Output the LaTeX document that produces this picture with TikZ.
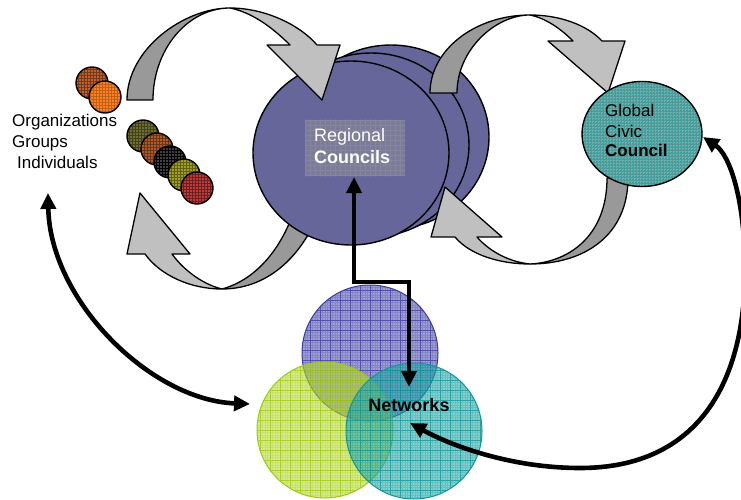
\documentclass[tikz,border=0pt]{standalone}
\usepackage{fontspec}
\setmainfont{Liberation Sans}
\usetikzlibrary{arrows.meta}
\definecolor{regfill}{RGB}{102,102,154}
\definecolor{regbox}{RGB}{124,124,152}
\definecolor{arrdark}{RGB}{153,153,153}
\definecolor{arrlight}{RGB}{192,192,192}
\definecolor{gcfill}{RGB}{48,158,154}
\definecolor{gcline}{RGB}{25,120,118}
\definecolor{vpurple}{RGB}{80,80,176}
\definecolor{vpurpleL}{RGB}{60,60,160}
\definecolor{vgreen}{RGB}{184,220,48}
\definecolor{vgreenL}{RGB}{160,200,20}
\definecolor{vteal}{RGB}{32,168,168}
\definecolor{vtealL}{RGB}{20,150,150}
\definecolor{cA}{RGB}{192,96,42}
\definecolor{cB}{RGB}{255,128,32}
\definecolor{cC}{RGB}{110,110,48}
\definecolor{cD}{RGB}{176,90,40}
\definecolor{cE}{RGB}{64,64,64}
\definecolor{cF}{RGB}{160,160,32}
\definecolor{cG}{RGB}{192,58,58}
\newcommand\plaidcirc[4]{%
  \begin{scope}
    \clip (#1,#2) circle [radius=16];
    \fill[#3] (#1,#2) circle [radius=16];
    \draw[step=3pt, line width=0.35pt, #4] (#1-18,#2-18) grid (#1+18,#2+18);
  \end{scope}
  \draw[black, line width=1.4pt] (#1,#2) circle [radius=16];}
\newcommand\venncirc[4]{%
  \begin{scope}
    \clip (#1,#2) circle [radius=68];
    \fill[#3, fill opacity=0.55] (#1,#2) circle [radius=68];
    \draw[step=10pt, line width=0.6pt, #4, opacity=0.7] (#1-80,#2-80) grid (#1+80,#2+80);
    \draw[step=2.5pt, line width=0.2pt, #4, opacity=0.25] (#1-80,#2-80) grid (#1+80,#2+80);
  \end{scope}
  \draw[#4, line width=1pt] (#1,#2) circle [radius=68];}
\begin{document}
\begin{tikzpicture}[x=1pt,y=-1pt,
  blk/.style={line width=4.6pt, arrows={Triangle[length=16pt,width=15pt]-Triangle[length=16pt,width=15pt]}},
  dk/.style={fill=arrdark, draw=black, line width=1.3pt, line join=round},
  lt/.style={fill=arrlight, draw=black, line width=1.3pt, line join=round},
  txt/.style={font=\fontsize{17}{20}\selectfont, inner sep=0pt, anchor=base west},
  txtb/.style={font=\fontsize{18}{21}\selectfont, inner sep=0pt, anchor=base west},
]
\useasboundingbox (0,0) rectangle (741,500);
\clip (0,0) rectangle (741,500);

% bottom-left gray curved arrow (tail under the councils)
\draw[dk] (222,289) .. controls (265,289) and (302,260) .. (322,205)
  -- (296,205) .. controls (282,250) and (255,280) .. (222,289) -- cycle;
\draw[lt] (222,289) .. controls (190,289) and (160,275) .. (145,254)
  -- (127,254) -- (140,193) -- (190,254) -- (172,254)
  .. controls (185,272) and (205,285) .. (222,289) -- cycle;

% Regional councils (stacked)
\foreach \dx/\dy in {40/-16,20/-8,0/0}
  \draw[fill=regfill, line width=1.4pt] (351+\dx,153+\dy) ellipse [x radius=98, y radius=92];
\coordinate (reg) at (351,153);
\node[fill=regbox, minimum width=100pt, minimum height=56pt, inner sep=0pt] (regbox) at (355,148) {};
\begin{scope}
  \clip (305,120) rectangle (405,176);
  \draw[step=5pt, line width=0.2pt, white, opacity=0.07] (300,115) grid (410,180);
\end{scope}
\node[txtb, text=white] (regt1) at (314,142) {Regional};
\node[txtb, text=white] (regt2) at (314,163) {\bfseries Councils};

% top-left gray curved arrow
\draw[dk] (127,100) .. controls (127,49) and (184,8) .. (230,8)
  .. controls (188,8) and (153,49) .. (153,100) -- cycle;
\draw[lt] (230,8) .. controls (265,8) and (300,25) .. (317,45)
  -- (340,45) -- (322,100) -- (267,45) -- (290,45)
  .. controls (270,25) and (250,12) .. (230,8) -- cycle;

% top-right gray curved arrow
\draw[dk] (430,93) .. controls (430,50) and (475,15) .. (530,15)
  .. controls (495,15) and (457,50) .. (457,93) -- cycle;
\draw[lt] (530,15) .. controls (560,15) and (587,25) .. (602,41)
  -- (625,41) -- (608,93) -- (548,41) -- (573,41)
  .. controls (560,28) and (545,18) .. (530,15) -- cycle;

% bottom-right gray curved arrow
\draw[dk] (628,178) .. controls (628,235) and (585,264) .. (530,264)
  .. controls (570,262) and (607,235) .. (607,178) -- cycle;
\draw[lt] (530,264) .. controls (500,264) and (470,255) .. (455,237)
  -- (431,237) -- (445,187) -- (502,237) -- (477,237)
  .. controls (490,252) and (510,262) .. (530,264) -- cycle;

% Global civic council
\begin{scope}
  \clip (642,134) ellipse [x radius=60, y radius=52.5];
  \fill[gcfill] (642,134) ellipse [x radius=60, y radius=52.5];
  \draw[step=3pt, line width=0.35pt, gcline] (575,75) grid (710,195);
  \draw[step=1.5pt, line width=0.2pt, white, opacity=0.25] (575,75) grid (710,195);
\end{scope}
\draw[line width=1.4pt] (642,134) ellipse [x radius=60, y radius=52.5];
\coordinate (gc) at (642,134);
\node[txt] (gc1) at (605,117) {Global};
\node[txt] (gc2) at (605,137) {Civic};
\node[txt] (gc3) at (605,157) {\bfseries Council};

% small circles
\plaidcirc{92}{83}{cA}{cA!60!black}
\plaidcirc{105}{97}{cB}{cB!75!black}
\plaidcirc{143}{136}{cC}{cC!60!black}
\plaidcirc{157}{149}{cD}{cD!60!black}
\plaidcirc{170}{162}{cE}{black}
\plaidcirc{184}{175}{cF}{cF!60!black}
\plaidcirc{197}{188}{cG}{cG!55!black}

% left labels
\node[txt] (org) at (12,126) {Organizations};
\node[txt] (grp) at (12,147) {Groups};
\node[txt] (ind) at (17,168) {Individuals};

% Networks venn
\venncirc{370}{353}{vpurple}{vpurpleL}
\venncirc{325}{430}{vgreen}{vgreenL}
\venncirc{414}{431}{vteal}{vtealL}
\node[txtb, anchor=base] (net) at (409,411) {\bfseries Networks};

% connectors
\coordinate (regin) at (354,177);
\coordinate (netin) at (409,387);
\draw[blk] (regin) -- ++(0,105) -| (netin);

\coordinate (indin) at (48,193);
\coordinate (netleft) at (250,404);
\draw[blk] (indin) .. controls (50,300) and (150,400) .. (netleft);

\coordinate (netright) at (410,423);
\coordinate (gcin) at (703,137);
\draw[blk] (netright) .. controls (450,445) and (510,468) .. (580,468)
  .. controls (700,468) and (745,380) .. (745,270)
  .. controls (745,200) and (730,155) .. (gcin);
\end{tikzpicture}
\end{document}
